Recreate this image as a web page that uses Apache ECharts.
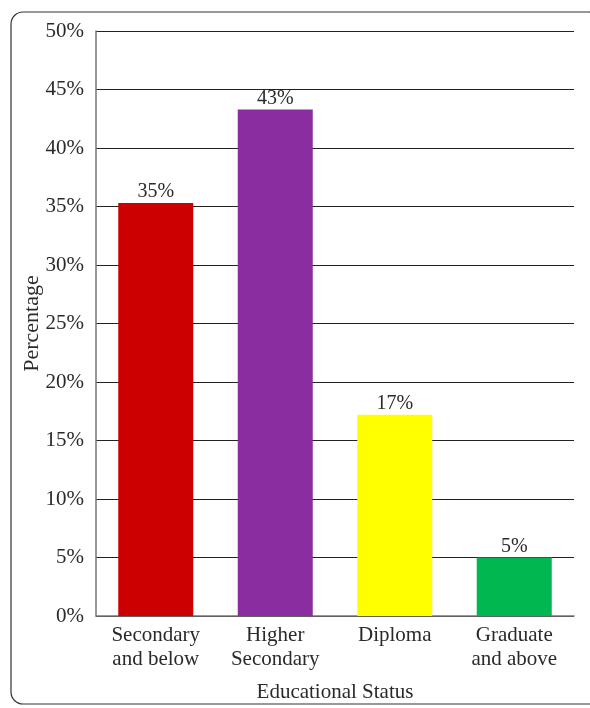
<!DOCTYPE html>
<html><head><meta charset="utf-8">
<script src="https://cdn.jsdelivr.net/npm/echarts@6/dist/echarts.min.js"></script>
<style>html,body{margin:0;padding:0;background:#fff}#c{width:590px;height:708px}</style>
</head><body><div id="c"></div>
<script>
var categories = ['Secondary\nand below', 'Higher\nSecondary', 'Diploma', 'Graduate\nand above'];
var values = [35.3, 43.3, 17.2, 5.0];
var labels = ['35%', '43%', '17%', '5%'];
var colors = ['#cc0000', '#8a2da0', '#ffff00', '#00b84f'];
var yTicks = [0, 5, 10, 15, 20, 25, 30, 35, 40, 45, 50];

var font = 'Liberation Serif';
var chart = echarts.init(document.getElementById('c'));
chart.setOption({
  animation: false,
  textStyle: {fontFamily: font},
  graphic: [{type: 'rect', shape: {x: 11, y: 12, width: 590, height: 692, r: 12},
    style: {fill: 'none', stroke: '#333', lineWidth: 1.2}, z: -1}],
  grid: {left: 96, right: 16, top: 31, bottom: 92, containLabel: false, outerBoundsMode: 'none'},
  xAxis: {
    type: 'category', data: categories,
    axisLine: {lineStyle: {color: '#777', width: 1.5}},
    axisTick: {show: false},
    axisLabel: {fontFamily: font, fontSize: 21, color: '#2a2a2a', lineHeight: 24, margin: 7},
    name: 'Educational Status', nameLocation: 'middle', nameGap: 66,
    nameTextStyle: {fontFamily: font, fontSize: 21, color: '#2a2a2a'}
  },
  yAxis: {
    type: 'value', min: 0, max: 50, interval: 5,
    axisLine: {show: true, lineStyle: {color: '#777', width: 1.5}},
    axisTick: {show: false},
    splitLine: {lineStyle: {color: '#222', width: 1}},
    axisLabel: {fontFamily: font, fontSize: 21, color: '#2a2a2a', margin: 12,
      formatter: function (v) { return yTicks.indexOf(v) >= 0 ? v + '%' : ''; }},
    name: 'Percentage', nameLocation: 'middle', nameGap: 53, nameRotate: 90, nameMoveOverlap: false,
    nameTextStyle: {fontFamily: font, fontSize: 22, color: '#2a2a2a'}
  },
  series: [{
    type: 'bar', barWidth: 75,
    data: values.map(function (v, i) { return {value: v, itemStyle: {color: colors[i]}}; }),
    label: {show: true, position: 'top', distance: 1, fontFamily: font, fontSize: 20, color: '#2a2a2a',
      formatter: function (p) { return labels[p.dataIndex]; }}
  }]
});
</script></body></html>
